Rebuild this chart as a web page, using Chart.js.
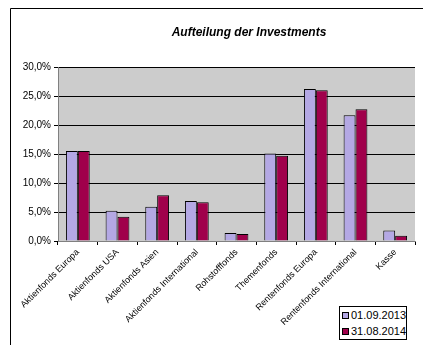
<!DOCTYPE html>
<html>
<head>
<meta charset="utf-8">
<script src="https://cdn.jsdelivr.net/npm/chart.js@4.4.0/dist/chart.umd.min.js"></script>
<style>
  html, body { margin: 0; padding: 0; background: #fff; overflow: hidden; }
  #wrap { position: relative; width: 423px; height: 345px; }
  canvas { position: absolute; left: 0; top: 0; }
  #legend { position: absolute; left: 339px; top: 306px; width: 66px; height: 32px;
    border: 1px solid #000; background: #fff; font-family: "Liberation Sans", Arial, sans-serif;
    font-size: 11px; color: #000; }
  .item { position: absolute; left: 2px; height: 14px; line-height: 14px; white-space: nowrap; }
  .sw { display: inline-block; width: 5px; height: 5px; border: 1px solid #000; vertical-align: middle; margin-right: 2px; position: relative; top: -1px; }
</style>
</head>
<body>
<div id="wrap">
  <canvas id="c" width="423" height="345"></canvas>
  <div id="legend"></div>
</div>
<script>
const title = "Aufteilung der Investments";
const categories = ["Aktienfonds Europa", "Aktienfonds USA", "Aktienfonds Asien", "Aktienfonds International", "Rohstofffonds", "Themenfonds", "Rentenfonds Europa", "Rentenfonds International", "Kasse"];
const seriesNames = ["01.09.2013", "31.08.2014"];
const values2013 = [15.5, 5.2, 5.9, 6.9, 1.4, 15.1, 26.2, 21.7, 1.8];
const values2014 = [15.5, 4.2, 7.9, 6.7, 1.2, 14.7, 26.0, 22.7, 0.9];
const colors = ["#b4a8e4", "#a0004b"];

const FONT = '"Liberation Sans", Arial, sans-serif';

const bgPlugin = {
  id: 'bg',
  beforeDraw(chart) {
    const ctx = chart.ctx, a = chart.chartArea;
    ctx.save();
    ctx.fillStyle = '#fff';
    ctx.fillRect(0, 0, chart.width, chart.height);
    ctx.fillStyle = '#cccccc';
    ctx.fillRect(a.left, a.top, a.right - a.left, a.bottom - a.top);
    ctx.strokeStyle = '#000';
    ctx.lineWidth = 1;
    ctx.beginPath();
    ctx.moveTo(10.5, 345);
    ctx.lineTo(10.5, 8.5);
    ctx.lineTo(423, 8.5);
    ctx.stroke();
    ctx.font = 'italic bold 12px ' + FONT;
    ctx.fillStyle = '#000';
    ctx.textAlign = 'center';
    ctx.textBaseline = 'middle';
    ctx.fillText(title, 249, 33);
    ctx.restore();
  }
};

new Chart(document.getElementById('c'), {
  type: 'bar',
  data: {
    labels: categories,
    datasets: [
      { label: seriesNames[0], data: values2013, backgroundColor: colors[0], borderColor: '#000', borderWidth: 1, borderSkipped: 'bottom' },
      { label: seriesNames[1], data: values2014, backgroundColor: colors[1], borderColor: '#000', borderWidth: 1, borderSkipped: 'bottom' }
    ]
  },
  options: {
    responsive: false,
    animation: false,
    devicePixelRatio: 1,
    layout: { padding: { left: 0, right: 8, top: 67, bottom: 0 } },
    datasets: { bar: { barPercentage: 1.0, categoryPercentage: 0.6 } },
    plugins: { legend: { display: false }, title: { display: false }, tooltip: { enabled: false } },
    scales: {
      x: {
        offset: true,
        grid: { display: true, drawOnChartArea: false, drawTicks: true, tickLength: 4, color: '#000', offset: true },
        border: { color: '#808080' },
        ticks: { minRotation: 45, maxRotation: 45, autoSkip: false, padding: 2, color: '#000', font: { family: FONT, size: 9 } },
        afterFit(s) { s.height = 104; }
      },
      y: {
        min: 0, max: 30,
        ticks: { stepSize: 5, padding: 3, color: '#000', font: { family: FONT, size: 10 },
          callback: v => v.toFixed(1).replace('.', ',') + '%' },
        grid: { color: '#000', tickLength: 4, lineWidth: 1 },
        border: { color: '#808080' },
        afterFit(s) { s.width = 58; }
      }
    }
  },
  plugins: [bgPlugin]
});

const lg = document.getElementById('legend');
seriesNames.forEach((n, i) => {
  const d = document.createElement('div');
  d.className = 'item';
  d.style.top = (1 + i * 16) + 'px';
  d.innerHTML = '<span class="sw" style="background:' + colors[i] + '"></span>' + n;
  lg.appendChild(d);
});
</script>
</body>
</html>
